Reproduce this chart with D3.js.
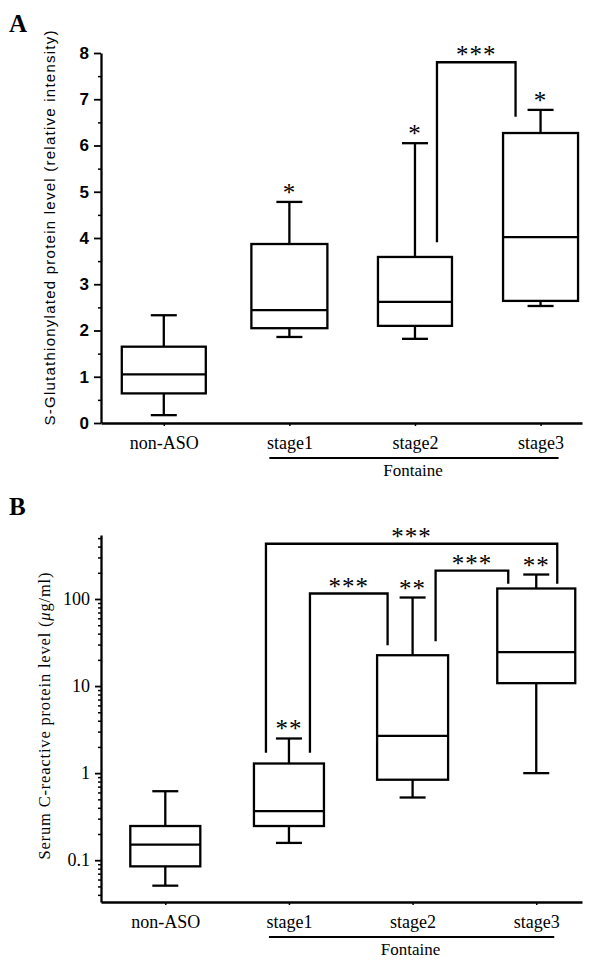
<!DOCTYPE html>
<html>
<head>
<meta charset="utf-8">
<script src="https://cdn.jsdelivr.net/npm/d3@7"></script>
<style>
  body { margin: 0; background: #fff; }
  svg { display: block; }
</style>
</head>
<body>
<div id="grafica"></div>
<script>
// categories
var groups = ["non-ASO", "stage1", "stage2", "stage3"];

// panel A: whisker low, q1, median, q3, whisker high
var lowA = [0.17, 1.86, 1.82, 2.53];
var q1A = [0.64, 2.05, 2.10, 2.64];
var medA = [1.05, 2.44, 2.62, 4.02];
var q3A = [1.65, 3.87, 3.59, 6.27];
var highA = [2.33, 4.78, 6.05, 6.77];
var starsA = ["", "*", "*", "*"];
var ticksA = [0, 1, 2, 3, 4, 5, 6, 7, 8];
// brackets A: from group, to group, top value, left leg end, right leg end, label
var bracketsA = [
  { from: 2, to: 3, top: 7.8, left: 3.91, right: 6.62, label: "***" }
];

// panel B (log scale)
var lowB = [0.051, 0.158, 0.525, 1.0];
var q1B = [0.085, 0.247, 0.84, 10.8];
var medB = [0.151, 0.366, 2.68, 24.5];
var q3B = [0.247, 1.29, 22.6, 132];
var highB = [0.62, 2.5, 104, 191];
var starsB = ["", "**", "**", "**"];
var ticksB = [0.1, 1, 10, 100];
var bracketsB = [
  { from: 1, to: 3, top: 431, left: 1.71, right: 150, label: "***" },
  { from: 1, to: 2, top: 115.6, left: 1.71, right: 29.4, label: "***" },
  { from: 2, to: 3, top: 212, left: 32.7, right: 150, label: "***" }
];

// ---------------------------//
//       LAYOUT               //
// ---------------------------//
var W = 591, H = 961;
var axisLeftX = 101, axisRightX = 582;
var boxWidthA = [84, 76, 74, 75];
var boxWidthB = [70, 70, 71, 78];
var bracketDxA = [[22, -25]];
var bracketDxB = [[-23, 21], [21, -25], [23, -28]];
var capW = 26;

var svg = d3.select("#grafica")
  .append("svg")
  .attr("width", W)
  .attr("height", H);

var serif = "'Liberation Serif', 'Times New Roman', serif";
var sans = "'Liberation Sans', Arial, sans-serif";
var starSize = 25;

function drawBoxes(x, y, low, q1, med, q3, high, widths, stars) {
  var g = svg.append("g")
    .attr("fill", "none")
    .attr("stroke", "#000")
    .attr("stroke-width", 2.3);
  groups.forEach(function (name, i) {
    var cx = x(i), w = widths[i];
    // whiskers
    g.append("line").attr("x1", cx).attr("x2", cx).attr("y1", y(high[i])).attr("y2", y(q3[i]));
    g.append("line").attr("x1", cx).attr("x2", cx).attr("y1", y(q1[i])).attr("y2", y(low[i]));
    g.append("line").attr("x1", cx - capW / 2).attr("x2", cx + capW / 2).attr("y1", y(high[i])).attr("y2", y(high[i]));
    g.append("line").attr("x1", cx - capW / 2).attr("x2", cx + capW / 2).attr("y1", y(low[i])).attr("y2", y(low[i]));
    // box
    g.append("rect")
      .attr("x", cx - w / 2).attr("y", y(q3[i]))
      .attr("width", w).attr("height", y(q1[i]) - y(q3[i]))
      .attr("fill", "#fff");
    g.append("line").attr("x1", cx - w / 2).attr("x2", cx + w / 2).attr("y1", y(med[i])).attr("y2", y(med[i]));
    // significance
    if (stars[i]) {
      svg.append("text")
        .attr("x", cx)
        .attr("y", y(high[i]) - 1)
        .attr("text-anchor", "middle")
        .style("font-family", serif)
        .style("font-size", starSize + "px")
        .style("letter-spacing", "1px")
        .text(stars[i]);
    }
  });
}

function drawBrackets(x, y, brackets, offsets) {
  brackets.forEach(function (b, i) {
    var xl = x(b.from) + offsets[i][0];
    var xr = x(b.to) + offsets[i][1];
    svg.append("path")
      .attr("d", "M" + xl + "," + y(b.left) + "V" + y(b.top) + "H" + xr + "V" + y(b.right))
      .attr("fill", "none")
      .attr("stroke", "#000")
      .attr("stroke-width", 2.3);
    svg.append("text")
      .attr("x", (xl + xr) / 2)
      .attr("y", y(b.top) + 1)
      .attr("text-anchor", "middle")
      .style("font-family", serif)
      .style("font-size", starSize + "px")
      .style("letter-spacing", "1px")
      .text(b.label);
  });
}

function drawXAxis(x, yPos, underlineY, fontaineY) {
  var ax = svg.append("g")
    .attr("transform", "translate(0," + yPos + ")")
    .call(d3.axisBottom(x)
      .tickValues([0, 1, 2, 3])
      .tickFormat(function (i) { return groups[i]; })
      .tickSize(3)
      .tickSizeOuter(0)
      .tickPadding(10));
  ax.select(".domain").attr("stroke-width", 2.3);
  ax.selectAll(".tick line").attr("stroke-width", 1.5);
  ax.selectAll("text")
    .style("font-family", serif)
    .style("font-size", "18px")
    .attr("fill", "#000");

  // Fontaine grouping line
  svg.append("line")
    .attr("x1", x(1) - 20).attr("x2", x(3) + 18)
    .attr("y1", underlineY).attr("y2", underlineY)
    .attr("stroke", "#000").attr("stroke-width", 2);
  svg.append("text")
    .attr("x", (x(1) + x(3)) / 2 - 2)
    .attr("y", fontaineY)
    .attr("text-anchor", "middle")
    .style("font-family", serif)
    .style("font-size", "17px")
    .text("Fontaine");
}

// ---------------------------//
//       PANEL A              //
// ---------------------------//
var xA = d3.scaleLinear().domain([-0.5, 3.33]).range([axisLeftX, axisRightX]);
var yA = d3.scaleLinear().domain([0, 8]).range([423, 53]);

var ayA = svg.append("g")
  .attr("transform", "translate(" + axisLeftX + ",0)")
  .call(d3.axisLeft(yA).tickValues(ticksA).tickSize(7).tickSizeOuter(0).tickPadding(5));
ayA.select(".domain").attr("stroke-width", 2.3);
ayA.selectAll(".tick line").attr("stroke-width", 1.8);
ayA.selectAll("text")
  .style("font-family", sans)
  .style("font-weight", "bold")
  .style("font-size", "17px")
  .attr("fill", "#000");
svg.append("g")
  .attr("transform", "translate(" + axisLeftX + ",0)")
  .call(d3.axisLeft(yA).tickValues(d3.range(0.5, 8, 1)).tickSize(3).tickFormat(""))
  .call(function (g) { g.select(".domain").remove(); g.selectAll("line").attr("stroke-width", 1.5); });

drawBrackets(xA, yA, bracketsA, bracketDxA);
drawBoxes(xA, yA, lowA, q1A, medA, q3A, highA, boxWidthA, starsA);
drawXAxis(xA, yA(0), 458, 476);

svg.append("text")
  .attr("transform", "translate(55,228) rotate(-90)")
  .attr("text-anchor", "middle")
  .style("font-family", sans)
  .style("font-size", "15px")
  .attr("textLength", 395)
  .text("S-Glutathionylated protein level (relative intensity)");

svg.append("text")
  .attr("x", 9).attr("y", 32)
  .style("font-family", serif)
  .style("font-weight", "bold")
  .style("font-size", "25px")
  .text("A");

// ---------------------------//
//       PANEL B              //
// ---------------------------//
var xB = d3.scaleLinear().domain([-0.52, 3.37]).range([axisLeftX, axisRightX]);
var yB = d3.scaleLog().domain([Math.pow(10, -1.48), Math.pow(10, 2.735)]).range([902, 535]);

var minorB = [];
[-2, -1, 0, 1, 2].forEach(function (e) {
  d3.range(2, 10).forEach(function (k) {
    var v = k * Math.pow(10, e);
    if (v >= yB.domain()[0] && v <= yB.domain()[1]) minorB.push(v);
  });
});

var ayB = svg.append("g")
  .attr("transform", "translate(" + axisLeftX + ",0)")
  .call(d3.axisLeft(yB).tickValues(ticksB).tickSize(6).tickSizeOuter(0).tickPadding(5)
    .tickFormat(function (d) { return d; }));
ayB.select(".domain").attr("stroke-width", 2.3);
ayB.selectAll(".tick line").attr("stroke-width", 1.8);
ayB.selectAll("text")
  .style("font-family", serif)
  .style("font-size", "18px")
  .attr("fill", "#000");
svg.append("g")
  .attr("transform", "translate(" + axisLeftX + ",0)")
  .call(d3.axisLeft(yB).tickValues(minorB).tickSize(3).tickFormat(""))
  .call(function (g) { g.select(".domain").remove(); g.selectAll("line").attr("stroke-width", 1.5); });

drawBrackets(xB, yB, bracketsB, bracketDxB);
drawBoxes(xB, yB, lowB, q1B, medB, q3B, highB, boxWidthB, starsB);
drawXAxis(xB, 902, 937, 955);

var labB = svg.append("text")
  .attr("transform", "translate(50,716) rotate(-90)")
  .attr("text-anchor", "middle")
  .style("font-family", serif)
  .style("font-size", "16.5px")
  .attr("textLength", 287);
labB.append("tspan").text("Serum C-reactive protein level (");
labB.append("tspan").style("font-style", "italic").text("μ");
labB.append("tspan").text("g/ml)");

svg.append("text")
  .attr("x", 9).attr("y", 515)
  .style("font-family", serif)
  .style("font-weight", "bold")
  .style("font-size", "25px")
  .text("B");
</script>
</body>
</html>
